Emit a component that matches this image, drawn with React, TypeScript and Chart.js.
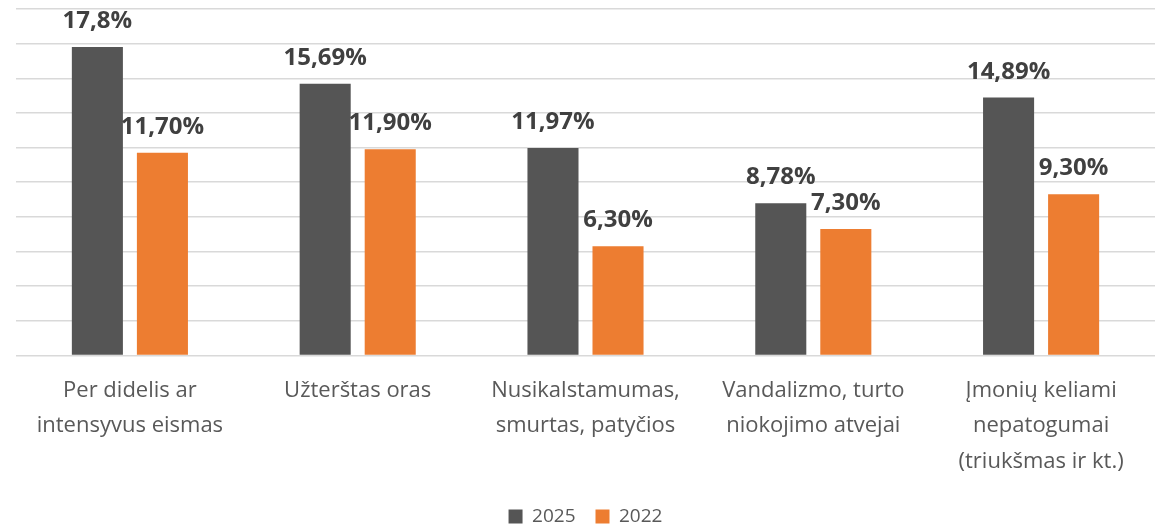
import React, { useEffect, useRef } from "react";
import { Chart, registerables } from "chart.js";

Chart.register(...registerables);

const categories: string[][] = [
  ["Per didelis ar", "intensyvus eismas"],
  ["Užterštas oras"],
  ["Nusikalstamumas,", "smurtas, patyčios"],
  ["Vandalizmo, turto", "niokojimo atvejai"],
  ["Įmonių keliami", "nepatogumai", "(triukšmas ir kt.)"],
];

const values2025 = [17.8, 15.69, 11.97, 8.78, 14.89];
const values2022 = [11.7, 11.9, 6.3, 7.3, 9.3];
const labels2025 = ["17,8%", "15,69%", "11,97%", "8,78%", "14,89%"];
const labels2022 = ["11,70%", "11,90%", "6,30%", "7,30%", "9,30%"];

const FONT = "'Open Sans', 'Noto Sans', sans-serif";

const valueLabelPlugin = {
  id: "valueLabels",
  afterDatasetsDraw(chart: any) {
    const ctx = chart.ctx;
    ctx.save();
    ctx.font = `bold 24px ${FONT}`;
    ctx.fillStyle = "#404040";
    ctx.textAlign = "center";
    ctx.textBaseline = "alphabetic";
    const all = [labels2025, labels2022];
    chart.data.datasets.forEach((_: any, di: number) => {
      const meta = chart.getDatasetMeta(di);
      meta.data.forEach((bar: any, i: number) => {
        ctx.fillText(all[di][i], bar.x, bar.y - 19);
      });
    });
    ctx.restore();
  },
};

export default function App() {
  const ref = useRef<HTMLCanvasElement | null>(null);
  useEffect(() => {
    if (!ref.current) return;
    const chart = new Chart(ref.current, {
      type: "bar",
      data: {
        labels: categories,
        datasets: [
          {
            label: "2025",
            data: values2025,
            backgroundColor: "#555555",
            categoryPercentage: 0.571,
            barPercentage: 0.785,
          },
          {
            label: "2022",
            data: values2022,
            backgroundColor: "#ED7D31",
            categoryPercentage: 0.571,
            barPercentage: 0.785,
          },
        ],
      },
      options: {
        responsive: false,
        animation: false,
        maintainAspectRatio: false,
        layout: { padding: { left: 16, right: 9, top: 9, bottom: -9 } },
        plugins: {
          tooltip: { enabled: false },
          legend: {
            display: true,
            position: "bottom",
            labels: {
              font: { family: FONT, size: 19 },
              color: "#595959",
              boxWidth: 14,
              boxHeight: 14,
              padding: 20,
            },
          },
        },
        scales: {
          x: {
            grid: { display: false },
            border: { display: false },
            ticks: {
              font: { family: FONT, size: 22, lineHeight: 1.6 },
              color: "#595959",
              padding: 10,
              maxRotation: 0,
              autoSkip: false,
            },
            afterFit: (scale: any) => {
              scale.height -= 2;
            },
          },
          y: {
            min: 0,
            max: 20,
            ticks: { display: false, stepSize: 2 },
            border: { display: false },
            grid: { color: "#d9d9d9", lineWidth: 1.5, drawTicks: false },
          },
        },
      },
      plugins: [valueLabelPlugin],
    });
    return () => chart.destroy();
  }, []);
  return (
    <div style={{ position: "absolute", left: 0, top: 0, width: 1164, height: 527, background: "#fff" }}>
      <canvas ref={ref} width={1164} height={527} style={{ width: 1164, height: 527 }} />
    </div>
  );
}
